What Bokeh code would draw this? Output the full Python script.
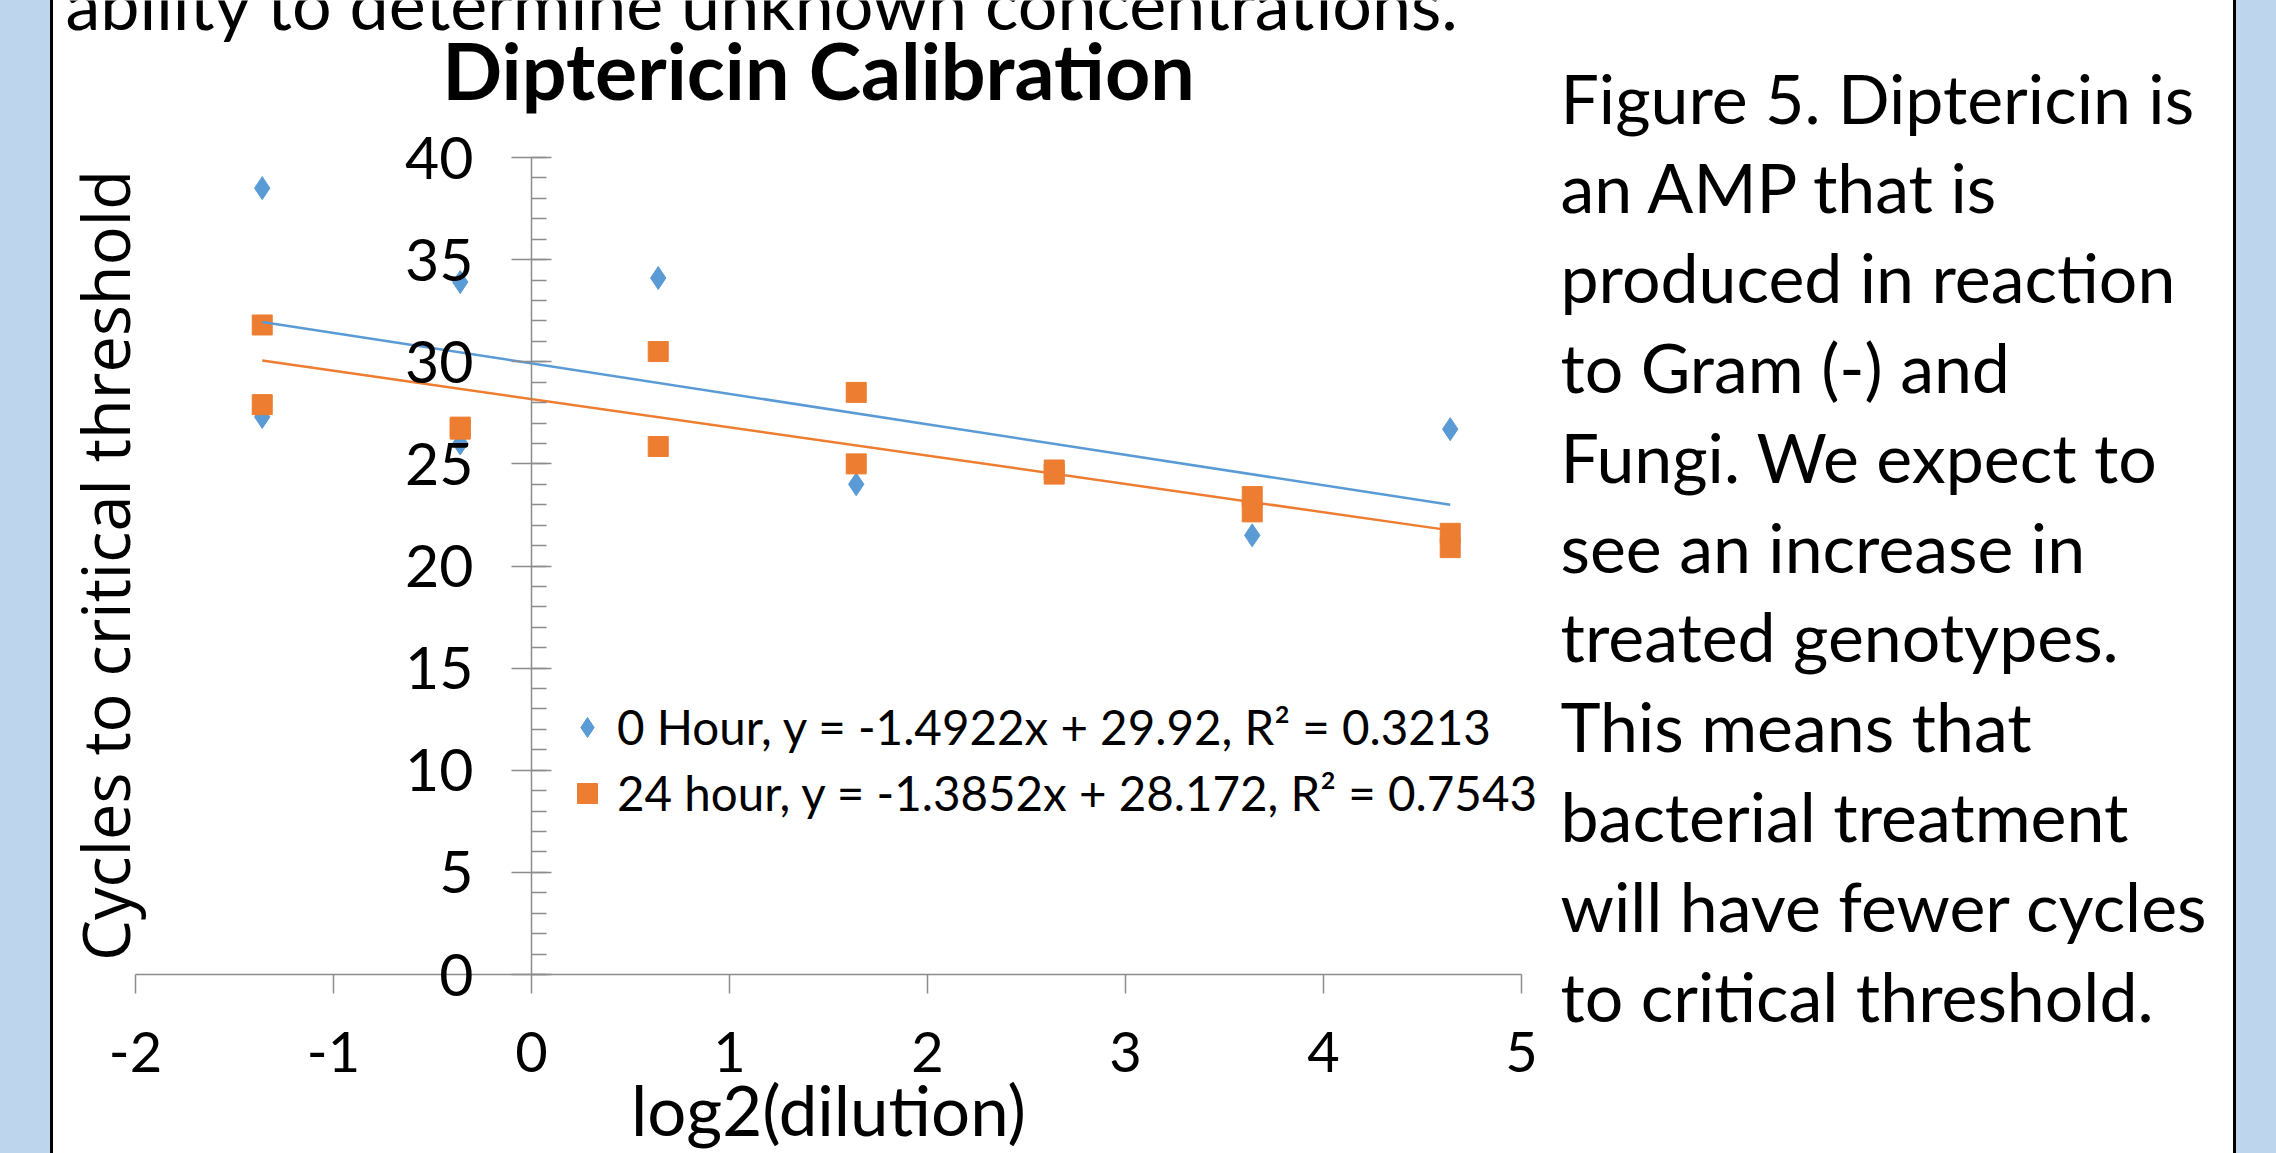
import math
from bokeh.plotting import figure
from bokeh.models import (Label, Legend, LegendItem, SingleIntervalTicker, Div, Range1d)
from bokeh.layouts import row
from bokeh.embed import file_html
from bokeh.resources import INLINE

# ---------------- data ----------------
hour0_x = [-1.36, -1.36, -0.36, -0.36, 0.64, 1.64, 3.64, 4.64]
hour0_y = [38.5, 27.3, 33.9, 26.0, 34.1, 24.0, 21.5, 26.7]

hour24_x = [-1.36, -1.36, -0.36, -0.36, 0.64, 0.64, 1.64, 1.64, 2.64, 2.64, 3.64, 3.64, 4.64, 4.64]
hour24_y = [31.8, 27.9, 26.8, 26.7, 30.5, 25.85, 28.5, 25.0, 24.7, 24.5, 23.4, 22.65, 21.6, 20.9]

trend_slope = [-1.4922, -1.3852]
trend_intercept = [29.92, 28.172]
series_labels = ["0 Hour, y = -1.4922x + 29.92, R\u00b2 = 0.3213",
                 "24 hour, y = -1.3852x + 28.172, R\u00b2 = 0.7543"]

x_axis_bounds = (-2, 5)
y_axis_bounds = (0, 40)
x_tick_labels = {-2: "-2", -1: "-1", 0: "0", 1: "1", 2: "2", 3: "3", 4: "4", 5: "5"}

chart_title = "Diptericin Calibration"
x_title = "log2(dilution)"
y_title = "Cycles to critical threshold"
top_text = "ability to determine unknown concentrations."
caption_lines = [
    "Figure 5. Diptericin is",
    "an AMP that is",
    "produced in reaction",
    "to Gram (-) and",
    "Fungi.  We expect to",
    "see an increase in",
    "treated genotypes.",
    "This means that",
    "bacterial treatment",
    "will have fewer cycles",
    "to critical threshold.",
]

# ---------------- layout (page pixels) ----------------
BLUE = "#BDD6EE"
PAGE_W, PAGE_H = 2276, 1153
BLUE_L, LINE_L, LINE_R = 50, 3, 3
FIG_X0 = BLUE_L + LINE_L            # 53
W = 2180                             # figure width
BLUE_R = PAGE_W - FIG_X0 - W - LINE_R
H = PAGE_H

# where the chart's axes sit on the page
AX_LEFT, AX_RIGHT = 135, 1521        # x = -2 .. 5
AX_TOP, AX_BOTTOM = 157, 974         # y = 40 .. 0
XPU = (AX_RIGHT - AX_LEFT) / (x_axis_bounds[1] - x_axis_bounds[0])
YPU = (AX_BOTTOM - AX_TOP) / (y_axis_bounds[1] - y_axis_bounds[0])
BASE_SHIFT = 0.36   # correction (in em) for where the text baseline lands


def dx(page_x):
    return x_axis_bounds[0] + (page_x - AX_LEFT) / XPU


def dy(page_y):
    return y_axis_bounds[0] + (AX_BOTTOM - page_y) / YPU


p = figure(width=W, height=H, title=None,
           x_range=Range1d(dx(FIG_X0), dx(FIG_X0 + W)),
           y_range=Range1d(dy(PAGE_H), dy(0)),
           output_backend="svg", toolbar_location=None,
           min_border_left=0, min_border_right=0,
           min_border_top=0, min_border_bottom=0)
p.outline_line_color = None
p.background_fill_color = "white"
p.border_fill_color = "white"
p.xgrid.visible = False
p.ygrid.visible = False

AX = "#8C8C8C"
# y axis crossing at x = 0
p.yaxis.fixed_location = 0
p.yaxis.bounds = y_axis_bounds
p.yaxis.ticker = SingleIntervalTicker(interval=5, num_minor_ticks=5)
p.yaxis.major_tick_in = 20
p.yaxis.major_tick_out = 20
p.yaxis.minor_tick_in = 15
p.yaxis.minor_tick_out = 0
p.yaxis.axis_line_color = AX
p.yaxis.major_tick_line_color = AX
p.yaxis.minor_tick_line_color = AX
p.yaxis.axis_line_width = 1.5
p.yaxis.major_tick_line_width = 1.5
p.yaxis.minor_tick_line_width = 1.5
p.yaxis.major_label_standoff = 38
p.yaxis.major_label_text_font = "Lato"
p.yaxis.major_label_text_font_size = "59px"
p.yaxis.major_label_text_color = "black"

# x axis along y = 0
p.xaxis.fixed_location = 0
p.xaxis.bounds = x_axis_bounds
p.xaxis.ticker = SingleIntervalTicker(interval=1, num_minor_ticks=0)
p.xaxis.major_label_overrides = x_tick_labels
p.xaxis.major_tick_in = 0
p.xaxis.major_tick_out = 19
p.xaxis.minor_tick_in = 0
p.xaxis.minor_tick_out = 0
p.xaxis.axis_line_color = AX
p.xaxis.major_tick_line_color = AX
p.xaxis.axis_line_width = 1.5
p.xaxis.major_tick_line_width = 1.5
p.xaxis.major_label_standoff = 38
p.xaxis.major_label_text_font = "Lato"
p.xaxis.major_label_text_font_size = "56px"
p.xaxis.major_label_text_color = "black"
p.xaxis.axis_label = x_title
p.xaxis.axis_label_text_font = "Lato"
p.xaxis.axis_label_text_font_size = "69px"
p.xaxis.axis_label_text_font_style = "normal"
p.xaxis.axis_label_text_color = "black"
p.xaxis.axis_label_standoff = -7

# data
r0 = p.scatter(hour0_x, hour0_y, marker="diamond", size=23, color="#5B9BD5")
r1 = p.scatter(hour24_x, hour24_y, marker="square", size=20, color="#ED7D31")

for xs, m, b, col in [(hour0_x, trend_slope[0], trend_intercept[0], "#5B9BD5"),
                      (hour24_x, trend_slope[1], trend_intercept[1], "#ED7D31")]:
    lx = [min(xs), max(xs)]
    ly = [m * v + b for v in lx]
    p.line(lx, ly, line_color=col, line_width=2.5)

# legend (location measured from the frame's bottom-left corner, in pixels)
LEG_GLYPH_W, LEG_ROW_H, LEG_SPACING = 50, 56, 9
leg_top = 728 - LEG_ROW_H / 2
leg_bottom = leg_top + 2 * LEG_ROW_H + LEG_SPACING
legend = Legend(items=[LegendItem(label=series_labels[0], renderers=[r0]),
                       LegendItem(label=series_labels[1], renderers=[r1])],
                location=(587 - LEG_GLYPH_W / 2 - FIG_X0, PAGE_H - leg_bottom),
                glyph_width=LEG_GLYPH_W, glyph_height=LEG_ROW_H, label_height=LEG_ROW_H,
                label_standoff=5, spacing=LEG_SPACING, padding=0, margin=0,
                border_line_color=None, background_fill_alpha=0,
                label_text_font="Lato", label_text_font_size="47.5px",
                label_text_color="black")
p.add_layout(legend)


def text_label(page_x, page_baseline, text, size, **kw):
    return Label(x=dx(page_x), y=dy(page_baseline - BASE_SHIFT * size), text=text,
                 text_font_size=f"{size}px", text_baseline="alphabetic",
                 text_color="black", **kw)


# texts
p.add_layout(text_label(818, 97, chart_title, 79, text_font="Lato",
                        text_font_style="bold", text_align="center"))
p.add_layout(Label(x=dx(128 - BASE_SHIFT * 65), y=dy(565), text=y_title,
                   text_font="Open Sans", text_font_size="65px", angle=math.pi / 2,
                   text_align="center", text_baseline="alphabetic", text_color="black"))
p.add_layout(text_label(65, 28, top_text, 70, text_font="Lato", text_align="left"))
for i, line in enumerate(caption_lines):
    p.add_layout(text_label(1560, 121 + i * 89.8, line, 68, text_font="Lato",
                            text_align="left"))

blue_l = Div(text="", width=BLUE_L, height=H, margin=0, styles={"background-color": BLUE})
black_l = Div(text="", width=LINE_L, height=H, margin=0, styles={"background-color": "black"})
black_r = Div(text="", width=LINE_R, height=H, margin=0, styles={"background-color": "black"})
blue_r = Div(text="", width=BLUE_R, height=H, margin=0, styles={"background-color": BLUE})

layout = row(blue_l, black_l, p, black_r, blue_r, spacing=0)

open("out.html", "w").write(file_html(layout, INLINE))
